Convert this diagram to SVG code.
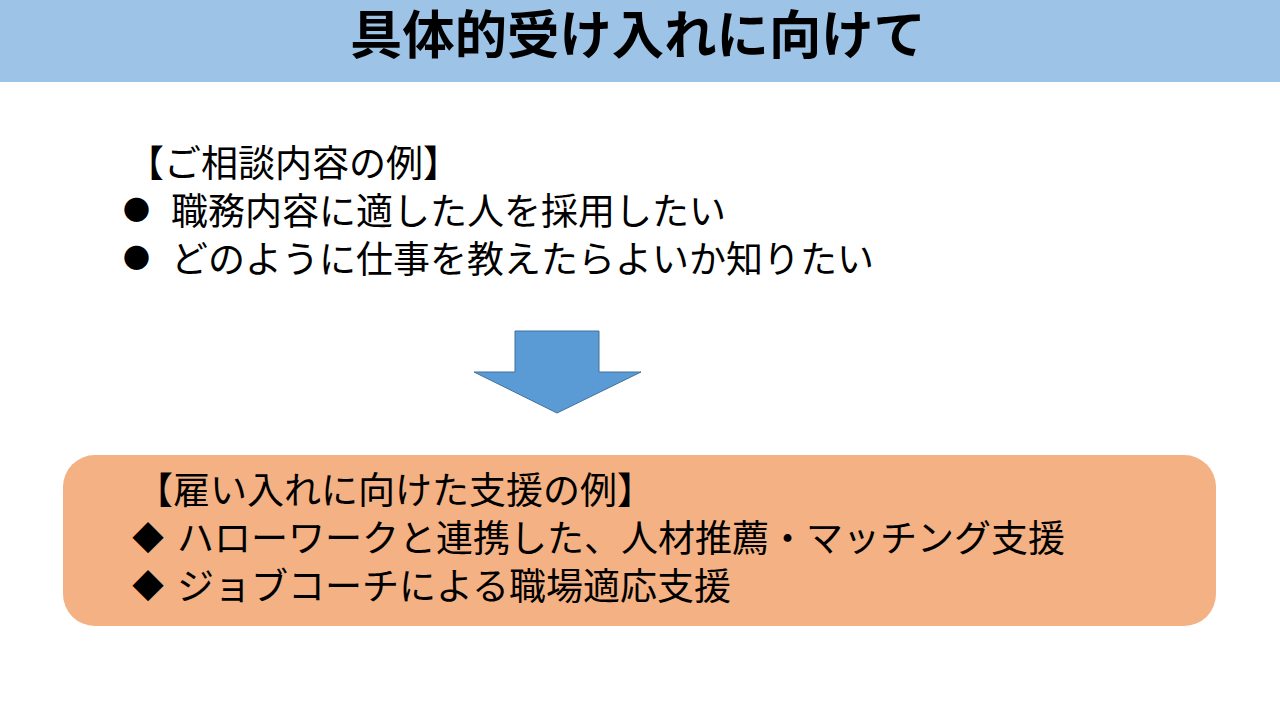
<svg xmlns="http://www.w3.org/2000/svg" width="1280" height="720" viewBox="0 0 1280 720">
<style>
.t{font-family:"Noto Sans CJK JP","Noto Sans",sans-serif;font-size:37px;fill:#000}
.b{font-family:"Noto Sans CJK JP","Noto Sans",sans-serif;font-size:27px;fill:#000}
.d{font-family:"Noto Sans CJK JP","Noto Sans",sans-serif;font-size:32px;fill:#000}
.title{font-family:"Noto Sans CJK JP","Noto Sans",sans-serif;font-size:52px;font-weight:bold;fill:#000}
</style>
<rect width="1280" height="720" fill="#fff"/>
<g id="header">
<rect x="0" y="0" width="1280" height="82" fill="#9DC3E6"/>
<text class="title" x="638" y="54" text-anchor="middle" textLength="576" lengthAdjust="spacingAndGlyphs">具体的受け入れに向けて</text>
</g>
<g id="consult">
<text class="t" x="127" y="177">【ご相談内容の例】</text>
<text class="b" x="123" y="220">●</text>
<text class="t" x="171" y="225">職務内容に適した人を採用したい</text>
<text class="b" x="123" y="268">●</text>
<text class="t" x="171" y="273">どのように仕事を教えたらよいか知りたい</text>
</g>
<g id="connectors">
<polygon points="515,331 599,331 599,372 641,372 557,413 474,372 515,372" fill="#5B9BD5" stroke="#41719C" stroke-width="1"/>
</g>
<g id="support">
<rect x="63" y="455" width="1153" height="171" rx="32" ry="32" fill="#F4B183"/>
<text class="t" x="136" y="504">【雇い入れに向けた支援の例】</text>
<text class="d" x="132" y="550">◆</text>
<text class="t" x="177" y="552">ハローワークと連携した、人材推薦・マッチング支援</text>
<text class="d" x="132" y="598">◆</text>
<text class="t" x="177" y="600">ジョブコーチによる職場適応支援</text>
</g>
</svg>
